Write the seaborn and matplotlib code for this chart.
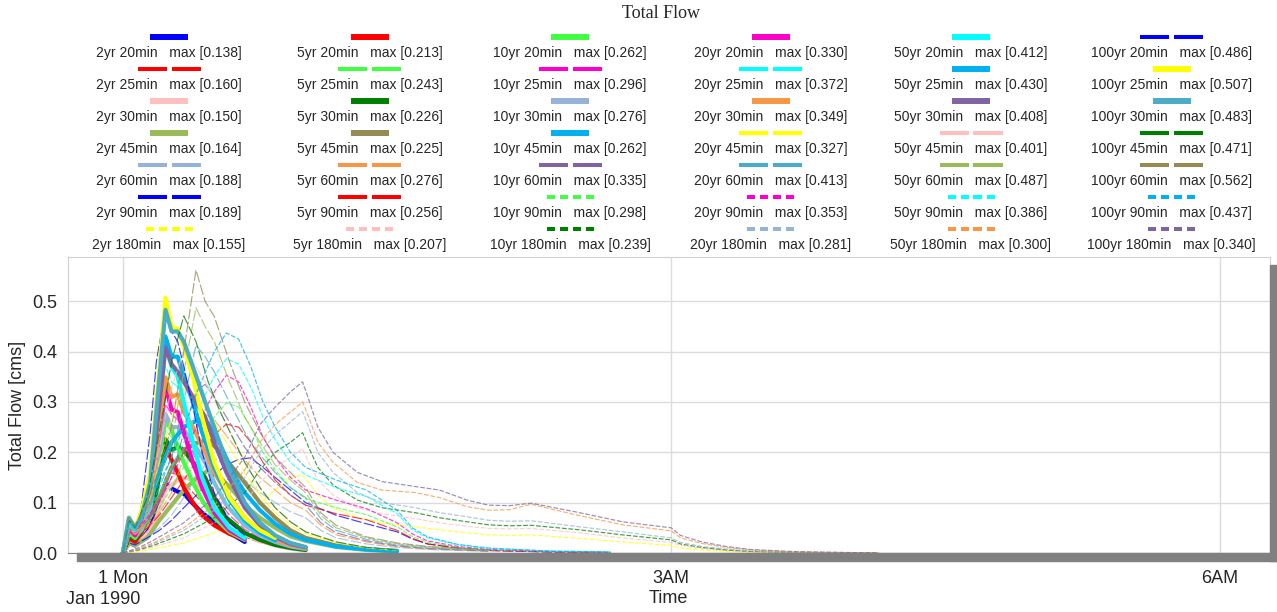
import numpy as np
import seaborn as sns
import matplotlib.pyplot as plt
from matplotlib.lines import Line2D
from matplotlib.patches import Rectangle
from matplotlib.ticker import FixedLocator

sns.set_style("white")
plt.rcParams['font.family'] = ['Liberation Sans', 'DejaVu Sans']

return_periods = ["2yr", "5yr", "10yr", "20yr", "50yr", "100yr"]
durations = ["20min", "25min", "30min", "45min", "60min", "90min", "180min"]

# time in minutes after 1 Jan 1990 00:00, one array per storm duration
t_20min = [0, 2, 4, 6, 9, 11, 14, 16, 18, 20, 23, 26, 30, 35, 40]
t_25min = [0, 2, 4, 6, 9, 11, 14, 16, 18, 20, 23, 26, 30, 35, 40, 45, 50]
t_30min = [0, 2, 4, 6, 9, 11, 14, 16, 18, 20, 23, 27, 30, 34, 40, 45, 50, 55, 60]
t_45min = [0, 2, 4, 8, 12, 16, 20, 24, 28, 32, 36, 40, 45, 50, 55, 60, 70, 80, 90]
t_60min = [0, 2, 4, 8, 12, 16, 20, 24, 27, 30, 35, 40, 45, 50, 55, 60, 65, 70, 80, 90, 100, 120]
t_90min = [0, 2, 4, 8, 12, 16, 20, 25, 30, 34, 38, 42, 46, 50, 55, 60, 70, 80, 90, 95, 100, 110, 120, 140, 160]
t_180min = [0, 5, 10, 20, 30, 40, 45, 50, 55, 59, 61, 64, 69, 77, 85, 96, 104, 113, 120, 127, 134,
            150, 164, 180, 183, 190, 198, 206, 220, 248]

# total flow [cms], rows = 2, 5, 10, 20, 50, 100 yr
q_20min = [
    [0, 0.02, 0.015, 0.025, 0.05, 0.085, 0.138, 0.128, 0.122, 0.118, 0.098, 0.08, 0.062, 0.04, 0.022],
    [0, 0.03, 0.022, 0.04, 0.08, 0.13, 0.213, 0.185, 0.16, 0.13, 0.10, 0.075, 0.055, 0.038, 0.026],
    [0, 0.04, 0.03, 0.05, 0.1, 0.16, 0.262, 0.245, 0.21, 0.18, 0.14, 0.105, 0.07, 0.042, 0.026],
    [0, 0.05, 0.035, 0.06, 0.12, 0.2, 0.330, 0.285, 0.28, 0.24, 0.18, 0.13, 0.08, 0.045, 0.028],
    [0, 0.06, 0.045, 0.07, 0.15, 0.26, 0.412, 0.37, 0.35, 0.30, 0.22, 0.15, 0.09, 0.05, 0.03],
    [0, 0.07, 0.05, 0.09, 0.24, 0.38, 0.486, 0.44, 0.42, 0.37, 0.29, 0.2, 0.12, 0.06, 0.035],
]
q_25min = [
    [0, 0.02, 0.016, 0.028, 0.055, 0.09, 0.15, 0.160, 0.155, 0.14, 0.12, 0.1, 0.072, 0.048, 0.032, 0.021, 0.014],
    [0, 0.035, 0.028, 0.045, 0.09, 0.15, 0.243, 0.23, 0.22, 0.2, 0.17, 0.135, 0.095, 0.062, 0.04, 0.026, 0.017],
    [0, 0.045, 0.035, 0.055, 0.11, 0.18, 0.296, 0.275, 0.265, 0.24, 0.2, 0.16, 0.115, 0.075, 0.047, 0.03, 0.02],
    [0, 0.05, 0.04, 0.065, 0.13, 0.23, 0.372, 0.34, 0.33, 0.30, 0.25, 0.2, 0.14, 0.09, 0.055, 0.035, 0.022],
    [0, 0.065, 0.048, 0.075, 0.15, 0.27, 0.430, 0.39, 0.39, 0.35, 0.30, 0.24, 0.17, 0.105, 0.065, 0.04, 0.025],
    [0, 0.07, 0.05, 0.08, 0.16, 0.30, 0.507, 0.45, 0.445, 0.41, 0.35, 0.27, 0.18, 0.11, 0.07, 0.045, 0.03],
]
q_30min = [
    [0, 0.02, 0.016, 0.025, 0.045, 0.07, 0.125, 0.135, 0.145, 0.150, 0.145, 0.12, 0.095, 0.065, 0.038, 0.024, 0.015, 0.009, 0.005],
    [0, 0.035, 0.028, 0.04, 0.075, 0.12, 0.226, 0.205, 0.21, 0.205, 0.18, 0.15, 0.11, 0.07, 0.04, 0.026, 0.016, 0.01, 0.006],
    [0, 0.045, 0.035, 0.045, 0.09, 0.16, 0.276, 0.25, 0.25, 0.245, 0.22, 0.18, 0.14, 0.095, 0.055, 0.035, 0.022, 0.013, 0.008],
    [0, 0.055, 0.04, 0.055, 0.11, 0.2, 0.349, 0.31, 0.315, 0.28, 0.25, 0.2, 0.16, 0.12, 0.07, 0.045, 0.027, 0.016, 0.01],
    [0, 0.065, 0.048, 0.065, 0.13, 0.24, 0.408, 0.375, 0.36, 0.34, 0.31, 0.27, 0.22, 0.16, 0.09, 0.055, 0.032, 0.018, 0.011],
    [0, 0.07, 0.05, 0.07, 0.14, 0.28, 0.483, 0.44, 0.44, 0.42, 0.37, 0.30, 0.25, 0.18, 0.10, 0.06, 0.035, 0.02, 0.012],
]
q_45min = [
    [0, 0.02, 0.015, 0.03, 0.065, 0.095, 0.125, 0.148, 0.164, 0.15, 0.125, 0.095, 0.07, 0.05, 0.033, 0.024, 0.012, 0.006, 0.003],
    [0, 0.04, 0.03, 0.06, 0.11, 0.17, 0.205, 0.218, 0.225, 0.2, 0.17, 0.14, 0.1, 0.07, 0.045, 0.03, 0.015, 0.008, 0.004],
    [0, 0.05, 0.04, 0.09, 0.16, 0.22, 0.25, 0.262, 0.258, 0.215, 0.16, 0.12, 0.085, 0.058, 0.038, 0.026, 0.013, 0.007, 0.004],
    [0, 0.05, 0.04, 0.09, 0.18, 0.27, 0.327, 0.31, 0.28, 0.24, 0.2, 0.16, 0.115, 0.08, 0.055, 0.038, 0.02, 0.01, 0.005],
    [0, 0.06, 0.045, 0.1, 0.21, 0.33, 0.401, 0.37, 0.33, 0.28, 0.23, 0.18, 0.13, 0.09, 0.062, 0.042, 0.022, 0.011, 0.006],
    [0, 0.065, 0.05, 0.11, 0.24, 0.38, 0.471, 0.42, 0.34, 0.28, 0.23, 0.18, 0.13, 0.09, 0.062, 0.042, 0.022, 0.011, 0.006],
]
q_60min = [
    [0, 0.02, 0.016, 0.03, 0.05, 0.075, 0.11, 0.15, 0.175, 0.188, 0.17, 0.145, 0.12, 0.1, 0.082, 0.07, 0.045, 0.03, 0.018, 0.011, 0.007, 0.003],
    [0, 0.035, 0.028, 0.05, 0.08, 0.12, 0.19, 0.25, 0.276, 0.265, 0.225, 0.185, 0.15, 0.125, 0.1, 0.085, 0.055, 0.036, 0.022, 0.013, 0.008, 0.004],
    [0, 0.045, 0.035, 0.065, 0.1, 0.15, 0.24, 0.32, 0.335, 0.31, 0.26, 0.21, 0.17, 0.14, 0.115, 0.095, 0.06, 0.04, 0.024, 0.014, 0.009, 0.004],
    [0, 0.055, 0.045, 0.08, 0.13, 0.19, 0.3, 0.413, 0.39, 0.36, 0.3, 0.24, 0.195, 0.16, 0.13, 0.11, 0.068, 0.045, 0.027, 0.016, 0.01, 0.005],
    [0, 0.065, 0.05, 0.09, 0.15, 0.22, 0.36, 0.487, 0.45, 0.42, 0.34, 0.27, 0.22, 0.175, 0.145, 0.12, 0.075, 0.05, 0.03, 0.018, 0.012, 0.005],
    [0, 0.07, 0.055, 0.1, 0.17, 0.25, 0.40, 0.562, 0.50, 0.47, 0.38, 0.3, 0.24, 0.19, 0.16, 0.13, 0.08, 0.055, 0.032, 0.02, 0.013, 0.006],
]
q_90min = [
    [0, 0.02, 0.016, 0.03, 0.045, 0.065, 0.09, 0.12, 0.155, 0.175, 0.186, 0.189, 0.17, 0.15, 0.125, 0.1, 0.075, 0.058, 0.042, 0.028, 0.018, 0.01, 0.005, 0.002, 0.001],
    [0, 0.035, 0.028, 0.05, 0.075, 0.11, 0.145, 0.19, 0.235, 0.256, 0.25, 0.22, 0.18, 0.145, 0.115, 0.095, 0.078, 0.066, 0.045, 0.029, 0.018, 0.01, 0.005, 0.002, 0.001],
    [0, 0.04, 0.032, 0.06, 0.09, 0.13, 0.17, 0.22, 0.27, 0.298, 0.29, 0.25, 0.2, 0.165, 0.13, 0.108, 0.09, 0.076, 0.052, 0.033, 0.021, 0.011, 0.006, 0.003, 0.001],
    [0, 0.05, 0.04, 0.07, 0.105, 0.15, 0.2, 0.26, 0.32, 0.353, 0.34, 0.29, 0.23, 0.19, 0.15, 0.125, 0.105, 0.088, 0.06, 0.038, 0.024, 0.013, 0.007, 0.003, 0.001],
    [0, 0.055, 0.045, 0.08, 0.12, 0.17, 0.22, 0.29, 0.35, 0.386, 0.375, 0.33, 0.27, 0.225, 0.18, 0.155, 0.13, 0.112, 0.078, 0.046, 0.03, 0.016, 0.009, 0.004, 0.002],
    [0, 0.06, 0.05, 0.09, 0.14, 0.19, 0.25, 0.33, 0.40, 0.437, 0.425, 0.37, 0.3, 0.25, 0.2, 0.17, 0.145, 0.125, 0.085, 0.05, 0.032, 0.017, 0.01, 0.004, 0.002],
]
q_180min = [
    [0, 0.003, 0.008, 0.02, 0.04, 0.07, 0.1, 0.125, 0.15, 0.155, 0.14, 0.115, 0.09, 0.07, 0.06, 0.052, 0.046, 0.04,
     0.036, 0.035, 0.036, 0.029, 0.022, 0.015, 0.01, 0.006, 0.003, 0.001, 0.0005, 0],
    [0, 0.005, 0.012, 0.03, 0.06, 0.1, 0.14, 0.17, 0.19, 0.207, 0.18, 0.145, 0.115, 0.09, 0.078, 0.068, 0.06, 0.053,
     0.049, 0.048, 0.049, 0.04, 0.03, 0.021, 0.015, 0.009, 0.005, 0.002, 0.001, 0],
    [0, 0.006, 0.015, 0.038, 0.07, 0.12, 0.165, 0.2, 0.22, 0.239, 0.21, 0.17, 0.135, 0.105, 0.09, 0.08, 0.07, 0.062,
     0.056, 0.054, 0.055, 0.046, 0.036, 0.026, 0.018, 0.011, 0.006, 0.003, 0.001, 0],
    [0, 0.007, 0.018, 0.045, 0.085, 0.15, 0.2, 0.235, 0.26, 0.281, 0.25, 0.2, 0.16, 0.12, 0.1, 0.09, 0.08, 0.072,
     0.065, 0.063, 0.064, 0.052, 0.042, 0.03, 0.021, 0.013, 0.008, 0.004, 0.001, 0],
    [0, 0.008, 0.02, 0.05, 0.095, 0.165, 0.22, 0.255, 0.28, 0.300, 0.27, 0.22, 0.18, 0.14, 0.125, 0.12, 0.11, 0.092,
     0.085, 0.086, 0.097, 0.074, 0.056, 0.044, 0.03, 0.019, 0.011, 0.006, 0.002, 0],
    [0, 0.01, 0.025, 0.06, 0.11, 0.19, 0.255, 0.29, 0.32, 0.340, 0.305, 0.25, 0.2, 0.16, 0.142, 0.132, 0.125, 0.105,
     0.095, 0.094, 0.099, 0.08, 0.062, 0.05, 0.035, 0.022, 0.013, 0.007, 0.003, 0],
]

times = [t_20min, t_25min, t_30min, t_45min, t_60min, t_90min, t_180min]
flows = [q_20min, q_25min, q_30min, q_45min, q_60min, q_90min, q_180min]

# colours, rows = return period, columns = duration
line_colors = [
    ['#0000FF', '#FF0000', '#FFBFBF', '#9BBB59', '#95B3D7', '#0000FF', '#FFFF00'],
    ['#FF0000', '#40FF40', '#008000', '#948A54', '#F79646', '#FF0000', '#FFBFBF'],
    ['#40FF40', '#FF00CC', '#95B3D7', '#00B0F0', '#8064A2', '#40FF40', '#008000'],
    ['#FF00CC', '#00FFFF', '#F79646', '#FFFF00', '#4BACC6', '#FF00CC', '#95B3D7'],
    ['#00FFFF', '#00B0F0', '#8064A2', '#FFBFBF', '#9BBB59', '#00FFFF', '#F79646'],
    ['#0000FF', '#FFFF00', '#4BACC6', '#008000', '#948A54', '#00B0F0', '#8064A2'],
]
# s = thick solid, d = thin dashed, o = thin dotted
line_styles = ["sdssddo", "sdssddo", "sdssdoo", "sdsddoo", "sssddoo", "dssddoo"]

style_kw = {
    's': dict(linewidth=3.0, linestyle='-', alpha=1.0),
    'd': dict(linewidth=0.85, linestyle=(0, (9, 2)), alpha=0.75),
    'o': dict(linewidth=0.85, linestyle=(0, (4, 1.5)), alpha=0.75),
}

W, H = 1277, 612
def px(x):
    return x / W
def py(y):
    return 1 - y / H

fig = plt.figure(figsize=(W / 100, H / 100), dpi=100)
ax = fig.add_axes([px(68), py(553), (1270 - 68) / W, (553 - 257) / H])

for i, rp in enumerate(return_periods):
    for j, dur in enumerate(durations):
        sns.lineplot(x=times[j], y=flows[j][i], ax=ax, color=line_colors[i][j],
                     estimator=None, sort=False, legend=False,
                     **style_kw[line_styles[i][j]])

ax.set_xlim(-18, 376.5)
ax.set_ylim(0, 0.588)
ax.set_xticks([0, 180, 360])
ax.set_xticklabels(["1 Mon", "3AM", "6AM"])
ax.xaxis.set_minor_locator(FixedLocator([60, 120, 240, 300]))
yt = np.arange(0, 0.51, 0.1)
ax.set_yticks(yt)
ax.set_yticklabels([f"{v:.1f}" for v in yt])
ax.yaxis.set_minor_locator(FixedLocator(np.arange(0.05, 0.56, 0.1)))

ax.grid(True, which='major', color='#dcdcdc', lw=1)
ax.set_axisbelow(True)
ax.tick_params(which='major', direction='out', color='#d0d0d0', labelsize=13)
ax.tick_params(axis='x', which='major', length=9, pad=3)
ax.tick_params(axis='y', which='major', length=6, pad=2)
ax.tick_params(which='minor', direction='in', length=6, color='#d0d0d0', width=1)
for s in ['left', 'top', 'right']:
    ax.spines[s].set_color('#d0d0d0')
ax.spines['bottom'].set_color('#808080')

ax.set_ylabel("Total Flow [cms]", fontsize=13, labelpad=4)
ax.set_xlabel("Time", fontsize=13)
ax.xaxis.set_label_coords((668 - 68) / 1202, -0.125)
fig.text(px(103), py(600), "Jan 1990", ha='center', va='center', fontsize=13)

# drop shadow of the chart frame
fig.add_artist(Rectangle((px(77), py(561)), (W - 77) / W, 8 / H,
                         transform=fig.transFigure, color='#808080', zorder=3))
fig.add_artist(Rectangle((px(1270), py(561)), 7 / W, (561 - 265) / H,
                         transform=fig.transFigure, color='#808080', zorder=3))

fig.text(px(661), py(13), "Total Flow", ha='center', va='center', fontsize=13,
         family=['Liberation Serif', 'DejaVu Serif'])

# legend: swatch above each label, 6 columns x 7 rows
for i, rp in enumerate(return_periods):
    cx = 169 + 200.5 * i
    for j, dur in enumerate(durations):
        sy = 37 + 32 * j
        ty = 53 + 32 * j
        st = line_styles[i][j]
        if st == 's':
            segs, w = [(-19, 19)], 4.3
        elif st == 'd':
            segs, w = [(-31.5, -2.5), (2.5, 31.5)], 2.9
        else:
            segs, w = [(-23.5, -15.5), (-10.5, -2.5), (2.5, 10.5), (15.5, 23.5)], 2.9
        for a, b in segs:
            fig.add_artist(Line2D([px(cx + a), px(cx + b)], [py(sy), py(sy)],
                                  color=line_colors[i][j], lw=w, solid_capstyle='butt'))
        peak = max(flows[j][i])
        fig.text(px(cx), py(ty), f"{rp} {dur}   max [{peak:.3f}]",
                 ha='center', va='center', fontsize=10)

fig.savefig("out.png", dpi=100)
